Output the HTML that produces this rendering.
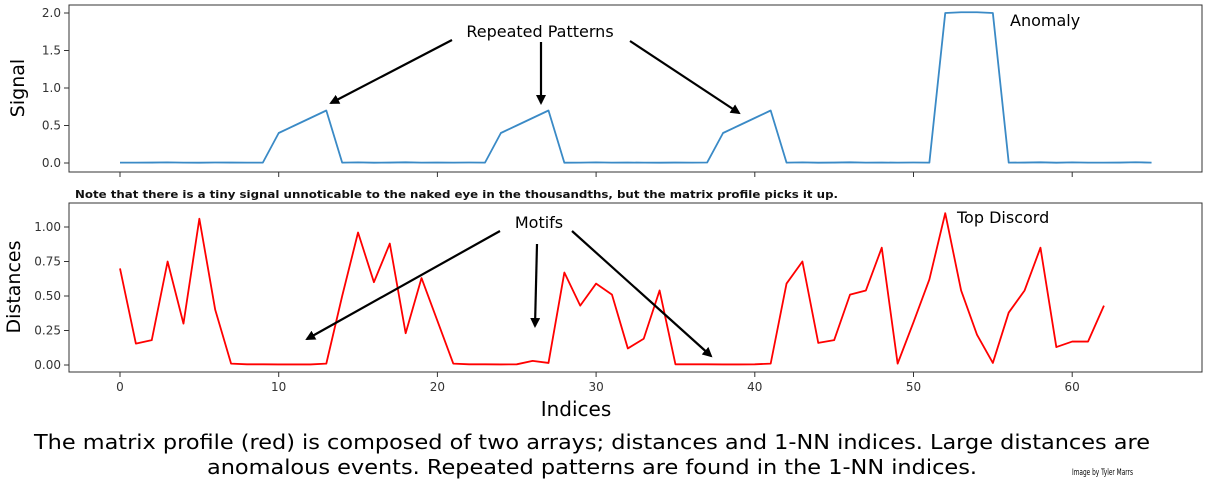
<!DOCTYPE html>
<html><head><meta charset="utf-8"><style>
html,body{margin:0;padding:0;background:#fff;}
svg{display:block;font-family:"DejaVu Sans","Liberation Sans",sans-serif;}
</style></head><body>
<svg id="chart" width="1216" height="492" viewBox="0 0 1216 492" xmlns="http://www.w3.org/2000/svg">
<defs><marker id="ah" markerWidth="10" markerHeight="10" refX="8" refY="5" orient="auto" markerUnits="userSpaceOnUse"><path d="M0,0 L10,5 L0,10 z" fill="#000"/></marker></defs>
<g id="top"></g>
<g id="bot"></g>
<text x="75" y="198" font-size="11" font-weight="bold" fill="#111" textLength="763" lengthAdjust="spacingAndGlyphs">Note that there is a tiny signal unnoticable to the naked eye in the thousandths, but the matrix profile picks it up.</text>
<text x="576" y="416" font-size="20" text-anchor="middle" fill="#000">Indices</text>
<text transform="translate(24,88) rotate(-90)" font-size="19" text-anchor="middle">Signal</text>
<text transform="translate(20,287) rotate(-90)" font-size="19" text-anchor="middle">Distances</text>
<text x="540" y="37" font-size="16" text-anchor="middle">Repeated Patterns</text>
<text x="1010" y="26" font-size="16">Anomaly</text>
<text x="539" y="228" font-size="16" text-anchor="middle">Motifs</text>
<text x="957" y="223" font-size="16">Top Discord</text>
<g stroke="#000" stroke-width="2.2" marker-end="url(#ah)">
<line x1="452" y1="40" x2="331" y2="103"/><line x1="541" y1="42" x2="541" y2="103"/><line x1="630" y1="41" x2="739" y2="113"/>
<line x1="500" y1="231" x2="307" y2="339"/><line x1="537" y1="244" x2="535" y2="326"/><line x1="572" y1="231" x2="711" y2="356"/>
</g>
<text x="592" y="449" font-size="20" text-anchor="middle" textLength="1116" lengthAdjust="spacingAndGlyphs">The matrix profile (red) is composed of two arrays; distances and 1-NN indices. Large distances are</text>
<text x="592" y="474" font-size="20" text-anchor="middle" textLength="770" lengthAdjust="spacingAndGlyphs">anomalous events. Repeated patterns are found in the 1-NN indices.</text>
<text x="1072" y="475" font-size="9" textLength="61" lengthAdjust="spacingAndGlyphs">Image by Tyler Marrs</text>
</svg>
<script>
const signalValues=[0.005,0.005,0.006,0.008,0.005,0.004,0.007,0.006,0.005,0.005,0.4,0.5,0.6,0.7,0.005,0.008,0.004,0.006,0.009,0.005,0.006,0.005,0.007,0.005,0.4,0.5,0.6,0.7,0.004,0.005,0.008,0.005,0.006,0.005,0.004,0.006,0.005,0.007,0.4,0.5,0.6,0.7,0.005,0.008,0.004,0.006,0.009,0.005,0.006,0.005,0.007,0.005,2.0,2.01,2.01,2.0,0.005,0.006,0.009,0.004,0.008,0.005,0.005,0.006,0.01,0.005];
const distanceValues=[0.70,0.155,0.18,0.75,0.30,1.06,0.40,0.01,0.005,0.005,0.004,0.004,0.004,0.01,0.5,0.96,0.60,0.88,0.23,0.63,0.32,0.01,0.005,0.005,0.004,0.005,0.03,0.015,0.67,0.43,0.59,0.51,0.12,0.19,0.54,0.005,0.005,0.005,0.004,0.004,0.005,0.01,0.59,0.75,0.16,0.18,0.51,0.54,0.85,0.01,0.31,0.62,1.10,0.54,0.22,0.015,0.38,0.54,0.85,0.13,0.17,0.17,0.43];
const xTicks=[0,10,20,30,40,50,60];
const signalTicks=[0,0.5,1.0,1.5,2.0];
const signalTickLabels=["0.0","0.5","1.0","1.5","2.0"];
const distTicks=[0,0.25,0.5,0.75,1.0];
const distTickLabels=["0.00","0.25","0.50","0.75","1.00"];
const NS="http://www.w3.org/2000/svg";
const xs=i=>120+i*15.87;
function mk(tag,attrs,parent){const e=document.createElementNS(NS,tag);for(const k in attrs)e.setAttribute(k,attrs[k]);parent.appendChild(e);return e;}
function panel(g,top,bottom,yScale,ticks,labels,vals,color,lbl,showXLabels){
  const r=mk('rect',{x:69,y:top,width:1133,height:bottom-top,fill:'none',stroke:'#333','stroke-width':1},g);
  
  
  ticks.forEach((t,i)=>{const y=yScale(t);
    const l=mk('line',{x1:64,x2:69,y1:y,y2:y,stroke:'#333'},g);
    
    
    const tx=mk('text',{x:61,y:y+4,'font-size':12,'text-anchor':'end',fill:'#333'},g);
    
    
    tx.textContent=labels[i];});
  xTicks.forEach(t=>{const x=xs(t);
    const l=mk('line',{x1:x,x2:x,y1:bottom,y2:bottom+5,stroke:'#333'},g);
    
    
    if(showXLabels){const tx=mk('text',{x:x,y:bottom+19,'font-size':12,'text-anchor':'middle',fill:'#333'},g);
      
      
      tx.textContent=t;}});
  const p=mk('polyline',{points:vals.map((v,i)=>xs(i)+','+yScale(v)).join(' '),fill:'none',stroke:color,'stroke-width':1.8,'stroke-linejoin':'round'},g);
  
  
}
panel(document.getElementById('top'),5,172,v=>163-v*75,signalTicks,signalTickLabels,signalValues,'#3a8ac6','signal-line',false);
panel(document.getElementById('bot'),203,372,v=>365-v*138,distTicks,distTickLabels,distanceValues,'#ff0000','distance-line',true);
</script>
</body></html>
